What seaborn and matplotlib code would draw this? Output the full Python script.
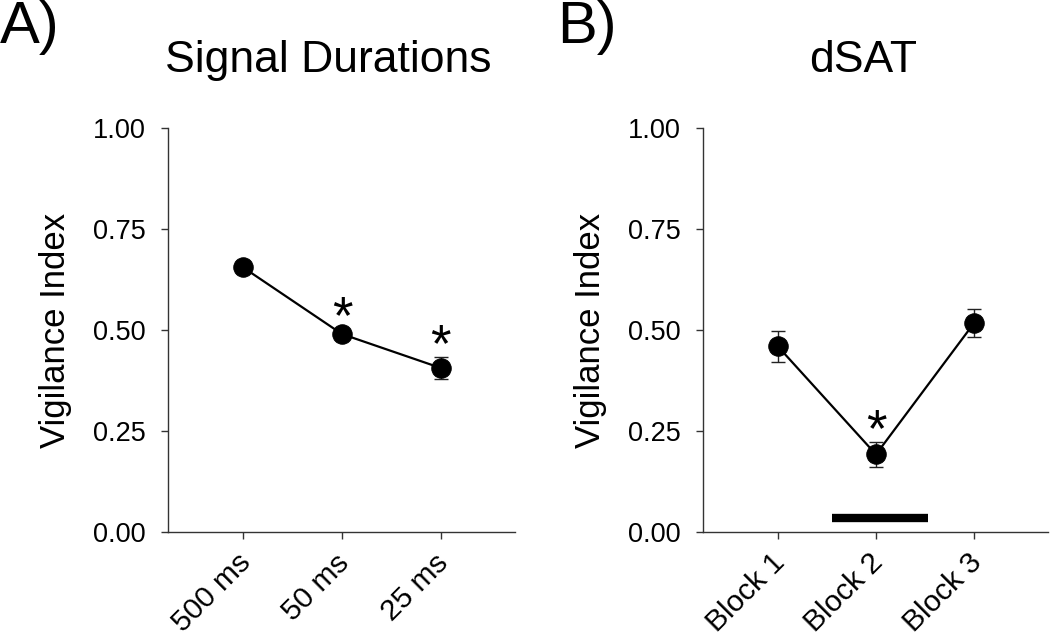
import matplotlib
matplotlib.use('Agg')
import matplotlib.pyplot as plt
import matplotlib.transforms as mtransforms
import numpy as np
import pandas as pd
import seaborn as sns

# panel A - signal durations
dur_labels = ['500 ms', '50 ms', '25 ms']
dur_mean = [0.655, 0.490, 0.406]
dur_sem = [0.015, 0.012, 0.027]
dur_sig = [False, True, True]

# panel B - dSAT blocks
block_labels = ['Block 1', 'Block 2', 'Block 3']
block_mean = [0.460, 0.192, 0.518]
block_sem = [0.038, 0.032, 0.035]
block_sig = [False, True, False]
# distractor period bar (block positions, y value)
distractor_span = [0.55, 1.53]
distractor_y = 0.035

yticks = [0.0, 0.25, 0.5, 0.75, 1.0]

sns.set_style('ticks')
plt.rcParams['font.family'] = ['Liberation Sans', 'DejaVu Sans']
plt.rcParams.update({
    'text.color': 'black',
    'axes.labelcolor': 'black',
    'xtick.color': '#333333',
    'ytick.color': '#333333',
    'xtick.labelcolor': 'black',
    'ytick.labelcolor': 'black',
    'xtick.labelsize': 21.5,
    'ytick.labelsize': 19.5,
})

fig = plt.figure(figsize=(10.5, 6.38), dpi=100)
ax1 = fig.add_axes([0.160, 0.1661, 0.3305, 0.6332])
ax2 = fig.add_axes([0.6695, 0.1661, 0.3286, 0.6332])


def draw_panel(ax, labels, means, sems, sig):
    df = pd.DataFrame({'pos': np.arange(len(labels)), 'mean': means, 'sem': sems})
    ax.errorbar(df['pos'], df['mean'], yerr=df['sem'], fmt='none', ecolor='#222222',
                elinewidth=1.0, capsize=5, capthick=1.0, zorder=2)
    sns.lineplot(data=df, x='pos', y='mean', ax=ax, color='black', linewidth=1.6,
                 marker='o', markersize=14, markeredgecolor='black', zorder=3)
    for p, m, s, flag in zip(df['pos'], means, sems, sig):
        if flag:
            ax.annotate('*', (p, m + s), xytext=(0, -11), textcoords='offset points',
                        ha='center', va='bottom', fontsize=38)
    ax.set_xlim(-0.76, 2.75)
    ax.set_ylim(0, 1)
    ax.tick_params(axis='both', direction='out', length=5, width=1)
    ax.tick_params(axis='y', pad=11)
    ax.tick_params(axis='x', pad=14)
    ax.set_yticks(yticks)
    ax.set_yticklabels(['%.2f' % v for v in yticks])
    ax.set_xticks(df['pos'])
    ax.set_xticklabels(labels, rotation=45, ha='right', va='center',
                       rotation_mode='anchor')
    offset = mtransforms.ScaledTranslation(3 / 100, 0, fig.dpi_scale_trans)
    for lab in ax.get_xticklabels():
        lab.set_transform(lab.get_transform() + offset)
    for side in ['top', 'right']:
        ax.spines[side].set_visible(False)
    for side in ['left', 'bottom']:
        ax.spines[side].set_color('#333333')
        ax.spines[side].set_linewidth(1.0)
    ax.set_xlabel('')
    ax.set_ylabel('Vigilance Index', fontsize=25)
    ax.yaxis.set_label_coords(-0.277, 0.5)
    ax.yaxis.label.set_va('bottom')


draw_panel(ax1, dur_labels, dur_mean, dur_sem, dur_sig)
draw_panel(ax2, block_labels, block_mean, block_sem, block_sig)
ax2.hlines(distractor_y, distractor_span[0], distractor_span[1], color='black', linewidth=6)

fig.text(0.0, 1 - 43 / 638, 'A)', fontsize=43, va='baseline', ha='left')
fig.text(557 / 1050, 1 - 43 / 638, 'B)', fontsize=43, va='baseline', ha='left')
fig.text(328.5 / 1050, 1 - 72 / 638, 'Signal Durations', fontsize=32, va='baseline', ha='center')
fig.text(863 / 1050, 1 - 72 / 638, 'dSAT', fontsize=32, va='baseline', ha='center')

fig.savefig('out.png', dpi=100)
